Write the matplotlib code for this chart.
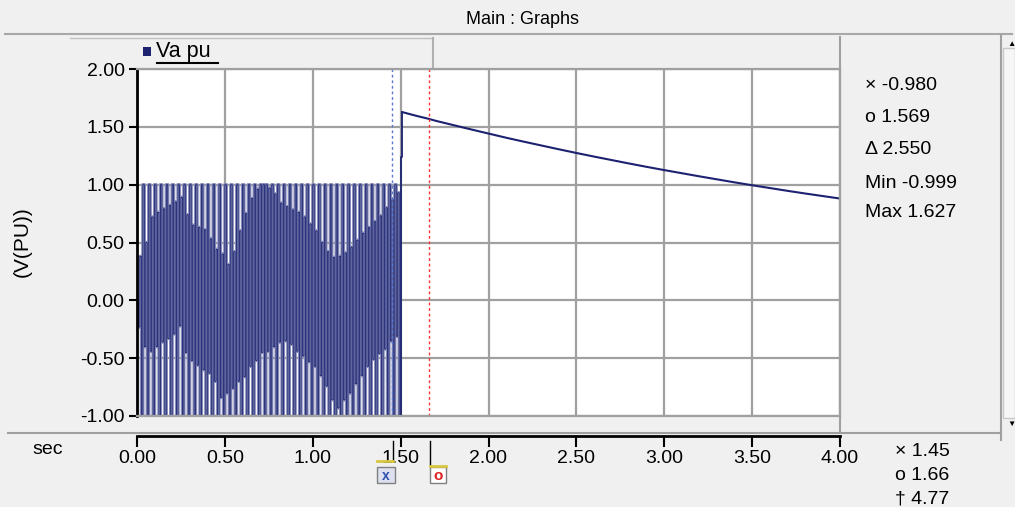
import matplotlib.pyplot as plt
from matplotlib.lines import Line2D
from matplotlib.patches import Rectangle
import numpy as np

plt.rcParams['font.family'] = ['Liberation Sans', 'DejaVu Sans']

W, H = 1015, 507

# Va_pu before the event, one sample every 1/120 s
dt_osc = 1 / 120
va_osc = [
    0.0, -0.23, 0.38, -1.0, 1.0, -0.40, 0.50, -1.0, 1.0, -0.44, 0.72, -1.0,
    1.0, -0.40, 0.76, -1.0, 1.0, -0.36, 0.79, -1.0, 1.0, -0.33, 0.82, -1.0,
    1.0, -0.29, 0.85, -1.0, 1.0, -0.22, 0.89, -1.0, 1.0, -0.45, 0.74, -1.0,
    1.0, -0.52, 0.65, -1.0, 1.0, -0.56, 0.63, -1.0, 1.0, -0.60, 0.61, -1.0,
    1.0, -0.63, 0.53, -1.0, 1.0, -0.70, 0.44, -1.0, 1.0, -0.84, 0.40, -1.0,
    1.0, -0.80, 0.31, -1.0, 1.0, -0.76, 0.42, -1.0, 1.0, -0.70, 0.60, -1.0,
    1.0, -0.66, 0.75, -1.0, 1.0, -0.57, 0.88, -1.0, 1.0, -0.52, 0.96, -1.0,
    1.0, -0.45, 1.00, -1.0, 1.0, -0.44, 0.97, -1.0, 1.0, -0.40, 0.92, -1.0,
    1.0, -0.36, 0.84, -1.0, 1.0, -0.35, 0.81, -1.0, 1.0, -0.38, 0.78, -1.0,
    1.0, -0.44, 0.76, -1.0, 1.0, -0.48, 0.72, -1.0, 1.0, -0.53, 0.66, -1.0,
    1.0, -0.57, 0.60, -1.0, 1.0, -0.65, 0.50, -1.0, 1.0, -0.74, 0.42, -1.0,
    1.0, -0.86, 0.37, -1.0, 1.0, -0.93, 0.38, -1.0, 1.0, -0.86, 0.41, -1.0,
    1.0, -0.80, 0.46, -1.0, 1.0, -0.72, 0.52, -1.0, 1.0, -0.65, 0.58, -1.0,
    1.0, -0.57, 0.63, -1.0, 1.0, -0.51, 0.68, -1.0, 1.0, -0.46, 0.73, -1.0,
    1.0, -0.42, 0.80, -1.0, 1.0, -0.35, 0.87, -1.0, 1.0, -0.31, 0.93, -1.0,
]

# jump and slow decay after the event
t_after = [1.50, 1.51, 1.60, 1.66, 1.70, 1.80, 1.90, 2.00, 2.10, 2.20, 2.30,
           2.40, 2.50, 2.60, 2.70, 2.80, 2.90, 3.00, 3.10, 3.20, 3.30, 3.40,
           3.50, 3.60, 3.70, 3.80, 3.90, 4.00]
va_after = [1.24, 1.627, 1.591, 1.569, 1.552, 1.515, 1.478, 1.442, 1.406,
            1.372, 1.339, 1.306, 1.274, 1.243, 1.213, 1.183, 1.154, 1.126,
            1.099, 1.072, 1.046, 1.020, 0.995, 0.971, 0.947, 0.924, 0.902,
            0.880]

cursor_x = 1.45
cursor_o = 1.66
y_ticks = [2.0, 1.5, 1.0, 0.5, 0.0, -0.5, -1.0]
x_ticks = [0.0, 0.5, 1.0, 1.5, 2.0, 2.5, 3.0, 3.5, 4.0]
readout_right = ['\u00d7 -0.980', 'o 1.569', '\u0394 2.550', 'Min -0.999', 'Max 1.627']
readout_bottom = ['\u00d7 1.45', 'o 1.66', '\u2020 4.77']

navy = '#1c2270'
lavender = '#878db8'
grid_gray = '#a0a0a0'
bg = '#f0f0f0'
fs = 14


def fx(x):
    return x / W


def fy(y):
    return 1 - y / H


def hline(x0, x1, y, color=grid_gray, lw=1.2):
    fig.add_artist(Line2D([fx(x0), fx(x1)], [fy(y), fy(y)], color=color, lw=lw))


def vline(x, y0, y1, color=grid_gray, lw=1.2):
    fig.add_artist(Line2D([fx(x), fx(x)], [fy(y0), fy(y1)], color=color, lw=lw))


fig = plt.figure(figsize=(W / 100, H / 100), dpi=100, facecolor=bg)

# frame of the graph panel
fig.text(fx(523), fy(20), 'Main : Graphs', ha='center', va='center', fontsize=13)
hline(5, 1012, 34, color='#a8a8a8', lw=1.5)
hline(70, 433, 37.5, color='#c0c0c0', lw=1)
vline(433, 37.5, 67, color='#b0b0b0', lw=1.5)
vline(840, 37, 432, color=grid_gray, lw=1.5)
vline(1001, 35, 440, color=grid_gray, lw=1.5)
hline(8, 1001, 432.5, color=grid_gray, lw=1.5)
fig.add_artist(Rectangle((fx(1003), fy(418)), fx(12), fy(48) - fy(418),
                         transform=fig.transFigure, facecolor='#f6f6f6',
                         edgecolor='#c8c8c8', lw=1))
fig.text(fx(1011), fy(44), '\u25b2', ha='center', va='center', fontsize=6)
fig.text(fx(1011), fy(424), '\u25bc', ha='center', va='center', fontsize=6)

# legend
fig.add_artist(Rectangle((fx(143), fy(56)), fx(8), fy(47) - fy(56),
                         transform=fig.transFigure, facecolor=navy, edgecolor='none'))
fig.text(fx(156), fy(52), 'Va pu', ha='left', va='center', fontsize=15.5)
hline(157, 218, 62.5, color='black', lw=1.5)

# main plot
ax = fig.add_axes([fx(137), fy(416), fx(840 - 137), fy(69) - fy(416)])
ax.set_facecolor('white')
t_osc = np.arange(len(va_osc)) * dt_osc
ax.plot(t_osc, va_osc, drawstyle='steps-post', color=lavender, lw=2.4, snap=False)
ax.plot(t_osc, va_osc, drawstyle='steps-post', color=navy, lw=0.6, snap=False)
ax.plot([t_osc[-1]] + t_after[:2], [va_osc[-1]] + va_after[:2],
        drawstyle='steps-post', color=navy, lw=1.3)
ax.plot(t_after[1:], va_after[1:], color=navy, lw=1.5)
ax.axvline(cursor_x, color='#5a7ad0', lw=1, ls=(0, (2, 2)))
ax.axvline(cursor_o, color='#ff3030', lw=1, ls=(0, (2, 2)))

ax.set_xlim(0, 4)
ax.set_ylim(-1, 2)
ax.set_xticks(x_ticks)
ax.set_yticks(y_ticks)
ax.set_yticklabels([f'{v:.2f}' for v in y_ticks])
ax.grid(True, color=grid_gray, lw=1.6)
ax.set_axisbelow(True)
ax.tick_params(axis='x', length=0, labelbottom=False)
ax.tick_params(axis='y', direction='out', length=6, width=1.5, pad=3, labelsize=fs)
for side in ['top', 'right', 'bottom']:
    ax.spines[side].set_color(grid_gray)
    ax.spines[side].set_linewidth(1.6)
ax.spines['left'].set_color('black')
ax.spines['left'].set_linewidth(2)

fig.text(fx(22), fy(242), '(V(PU))', rotation=90, ha='center', va='center', fontsize=15)

# time axis below the panel
axx = fig.add_axes([fx(137), fy(436), fx(840 - 137), 0.0001])
axx.set_facecolor('none')
axx.set_xlim(0, 4)
axx.set_xticks(x_ticks)
axx.set_xticklabels([f'{v:.2f}' for v in x_ticks])
axx.set_yticks([])
for side in ['top', 'left', 'right']:
    axx.spines[side].set_visible(False)
axx.spines['bottom'].set_color('black')
axx.spines['bottom'].set_linewidth(2)
axx.tick_params(axis='x', direction='out', length=8, width=1.5, pad=2, labelsize=fs)
fig.text(fx(48), fy(449), 'sec', ha='center', va='center', fontsize=14)

# cursor markers
vline(392.5, 441, 460, color='black', lw=1)
hline(377, 392.5, 461, color='#d8c840', lw=2)
fig.add_artist(Rectangle((fx(377), fy(483)), fx(18), fy(467) - fy(483),
                         transform=fig.transFigure, facecolor='#dde0ee',
                         edgecolor='#808080', lw=1))
fig.text(fx(386), fy(476), 'x', ha='center', va='center', fontsize=10,
         fontweight='bold', color='#3050b0')
vline(430, 441, 466, color='black', lw=1)
hline(430, 446, 466, color='#d8c840', lw=2)
fig.add_artist(Rectangle((fx(430), fy(483)), fx(16), fy(467) - fy(483),
                         transform=fig.transFigure, facecolor='white',
                         edgecolor='#808080', lw=1))
fig.text(fx(438), fy(476), 'o', ha='center', va='center', fontsize=11,
         fontweight='bold', color='#e02020')

# readouts
for i, s in enumerate(readout_right):
    fig.text(fx(865), fy([85, 117, 150, 183, 213][i]), s, ha='left', va='center', fontsize=fs)
for i, s in enumerate(readout_bottom):
    fig.text(fx(895), fy([451, 475, 499][i]), s, ha='left', va='center', fontsize=fs)

fig.savefig('out.png', dpi=100, facecolor=bg)
